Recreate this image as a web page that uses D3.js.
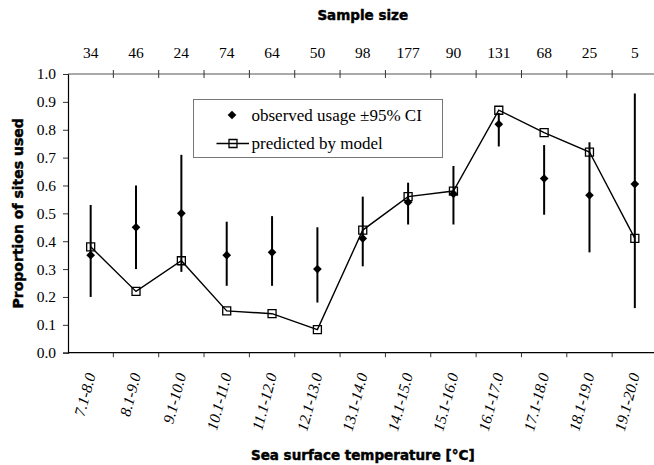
<!DOCTYPE html>
<html>
<head>
<meta charset="utf-8">
<script src="https://cdn.jsdelivr.net/npm/d3@7"></script>
<style>
  html, body { margin: 0; padding: 0; background: #fff; }
  svg { display: block; }
</style>
</head>
<body>
<svg id="chart" width="654" height="465"></svg>
<script>
// Temperature classes (°C) and the sample size for each class
const categories = ["7.1-8.0", "8.1-9.0", "9.1-10.0", "10.1-11.0", "11.1-12.0", "12.1-13.0",
  "13.1-14.0", "14.1-15.0", "15.1-16.0", "16.1-17.0", "17.1-18.0", "18.1-19.0", "19.1-20.0"];
const sampleSizes = [34, 46, 24, 74, 64, 50, 98, 177, 90, 131, 68, 25, 5];

// Observed proportion of sites used, with 95% confidence limits
const observed = [0.35, 0.45, 0.50, 0.35, 0.36, 0.30, 0.41, 0.54, 0.57, 0.82, 0.625, 0.565, 0.605];
const ciLower  = [0.20, 0.30, 0.29, 0.24, 0.24, 0.18, 0.31, 0.46, 0.46, 0.74, 0.495, 0.36, 0.16];
const ciUpper  = [0.53, 0.60, 0.71, 0.47, 0.49, 0.45, 0.56, 0.61, 0.67, 0.86, 0.745, 0.755, 0.93];

// Proportion predicted by the model
const predicted = [0.38, 0.22, 0.33, 0.15, 0.14, 0.083, 0.44, 0.56, 0.58, 0.87, 0.79, 0.72, 0.41];

const yTicks = [0, 0.1, 0.2, 0.3, 0.4, 0.5, 0.6, 0.7, 0.8, 0.9, 1.0];

const serif = "'Liberation Serif', 'Times New Roman', serif";
const sans = "'DejaVu Sans', Arial, sans-serif";

const svg = d3.select("#chart");
const plotLeft = 68, plotRight = 657.5, plotTop = 74, plotBottom = 352.7;

const x = d3.scaleBand().domain(categories).range([plotLeft, plotRight]).padding(0);
const y = d3.scaleLinear().domain([0, 1]).range([plotBottom, plotTop]);
const cx = d => x(d) + x.bandwidth() / 2;

// Y axis
const yAxis = svg.append("g")
  .attr("transform", `translate(${plotLeft},0)`)
  .call(d3.axisLeft(y).tickValues(yTicks).tickFormat(d3.format(".1f")).tickSize(5).tickPadding(7));
yAxis.select(".domain").attr("stroke", "#000").attr("stroke-width", 1.2);
yAxis.selectAll(".tick line").attr("stroke", "#333");
yAxis.selectAll(".tick text")
  .attr("font-family", serif).attr("font-size", "15.5px").attr("fill", "#000");

// Bottom axis: line with ticks at class boundaries
svg.append("line")
  .attr("x1", plotLeft).attr("x2", plotRight).attr("y1", plotBottom).attr("y2", plotBottom)
  .attr("stroke", "#000").attr("stroke-width", 1.2);
svg.append("g").selectAll("line")
  .data(categories.slice(1))
  .join("line")
  .attr("x1", d => x(d)).attr("x2", d => x(d))
  .attr("y1", plotBottom).attr("y2", plotBottom + 4.5)
  .attr("stroke", "#333");

// Top axis: sample sizes
svg.append("line")
  .attr("x1", plotLeft).attr("x2", plotRight).attr("y1", plotTop).attr("y2", plotTop)
  .attr("stroke", "#555").attr("stroke-width", 1);
svg.append("g").selectAll("line")
  .data(categories.slice(1))
  .join("line")
  .attr("x1", d => x(d)).attr("x2", d => x(d))
  .attr("y1", plotTop - 4).attr("y2", plotTop + 4)
  .attr("stroke", "#333");
svg.append("g").selectAll("text")
  .data(categories)
  .join("text")
  .attr("x", d => cx(d)).attr("y", 58)
  .attr("text-anchor", "middle")
  .attr("font-family", serif).attr("font-size", "15.5px")
  .text((d, i) => sampleSizes[i]);

// Rotated class labels
svg.append("g").selectAll("text")
  .data(categories)
  .join("text")
  .attr("transform", d => `translate(${cx(d) + 5},${plotBottom + 22}) rotate(-75)`)
  .attr("text-anchor", "end")
  .attr("font-family", serif).attr("font-style", "italic").attr("font-size", "15.5px")
  .text(d => d);

// Axis titles (heavy sans)
const titleStyle = sel => sel
  .attr("font-family", sans).attr("font-weight", "bold")
  .attr("stroke", "#000").attr("stroke-width", 0.45)
  .attr("text-anchor", "middle");
svg.append("text")
  .attr("x", (plotLeft + plotRight) / 2).attr("y", 20)
  .attr("font-size", "13.5px")
  .call(titleStyle)
  .text("Sample size");
svg.append("text")
  .attr("x", (plotLeft + plotRight) / 2).attr("y", 460)
  .attr("font-size", "13.5px")
  .call(titleStyle)
  .text("Sea surface temperature [°C]");
svg.append("text")
  .attr("transform", `translate(23,${(plotTop + plotBottom) / 2}) rotate(-90)`)
  .attr("font-size", "14px")
  .call(titleStyle)
  .text("Proportion of sites used");

// Confidence intervals
svg.append("g").selectAll("line")
  .data(categories)
  .join("line")
  .attr("x1", d => cx(d)).attr("x2", d => cx(d))
  .attr("y1", (d, i) => y(ciLower[i])).attr("y2", (d, i) => y(ciUpper[i]))
  .attr("stroke", "#000").attr("stroke-width", 2);

// Observed diamonds
const diamond = d3.symbol(d3.symbolSquare, 38);
svg.append("g").selectAll("path")
  .data(categories)
  .join("path")
  .attr("d", diamond)
  .attr("transform", (d, i) => `translate(${cx(d)},${y(observed[i])}) rotate(45)`)
  .attr("fill", "#000");

// Predicted line and open squares
svg.append("path")
  .datum(categories)
  .attr("d", d3.line().x(d => cx(d)).y((d, i) => y(predicted[i])))
  .attr("fill", "none").attr("stroke", "#000").attr("stroke-width", 1.4);
const square = d3.symbol(d3.symbolSquare, 64);
svg.append("g").selectAll("path")
  .data(categories)
  .join("path")
  .attr("d", square)
  .attr("transform", (d, i) => `translate(${cx(d)},${y(predicted[i])})`)
  .attr("fill", "none").attr("stroke", "#000").attr("stroke-width", 1.3);

// Legend
const lg = svg.append("g");
lg.append("rect")
  .attr("x", 193.5).attr("y", 99.5).attr("width", 249).attr("height", 58)
  .attr("fill", "#fff").attr("stroke", "#777").attr("stroke-width", 1);
lg.append("path")
  .attr("d", diamond)
  .attr("transform", "translate(232,115) rotate(45)")
  .attr("fill", "#000");
lg.append("text")
  .attr("x", 251.5).attr("y", 121)
  .attr("font-family", serif).attr("font-size", "17px")
  .text("observed usage ±95% CI");
lg.append("line")
  .attr("x1", 216.5).attr("x2", 249).attr("y1", 143.5).attr("y2", 143.5)
  .attr("stroke", "#000").attr("stroke-width", 1.4);
lg.append("path")
  .attr("d", square)
  .attr("transform", "translate(233,143.5)")
  .attr("fill", "none").attr("stroke", "#000").attr("stroke-width", 1.3);
lg.append("text")
  .attr("x", 251.5).attr("y", 149)
  .attr("font-family", serif).attr("font-size", "17px")
  .text("predicted by model");
</script>
</body>
</html>
